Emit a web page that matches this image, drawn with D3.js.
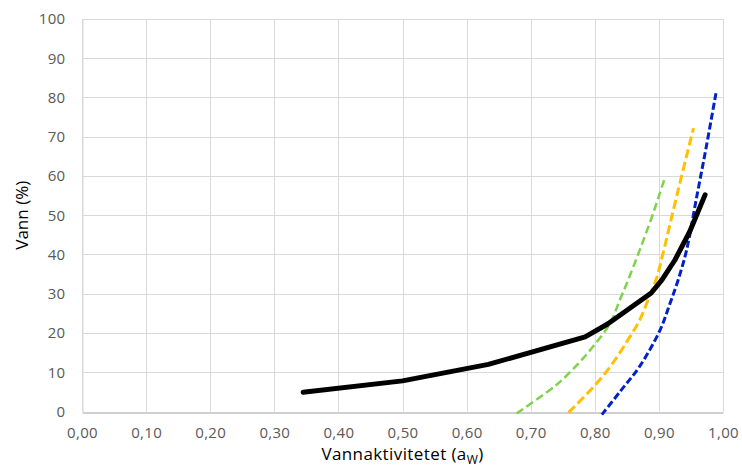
<!DOCTYPE html>
<html><head><meta charset="utf-8">
<script src="https://cdn.jsdelivr.net/npm/d3@7"></script>
<style>body{margin:0;background:#fff}svg{display:block}</style>
</head><body>
<svg id="c" width="742" height="472"></svg>
<script>
const xTicks = [0,0.1,0.2,0.3,0.4,0.5,0.6,0.7,0.8,0.9,1.0];
const yTicks = [0,10,20,30,40,50,60,70,80,90,100];
const blackAw = [0.345,0.50,0.634,0.785,0.82,0.888,0.905,0.925,0.948,0.972];
const blackV  = [4.9,7.8,12.0,19.0,22.3,30.2,33.6,38.6,45.8,55.2];
const greenAw = [0.678,0.73,0.746,0.772,0.797,0.824,0.839,0.852,0.87,0.89,0.909];
const greenV  = [-0.5,5.5,7.6,11.8,16.5,22.5,28.4,33.5,41.1,50,59.4];
const orangeAw = [0.759,0.798,0.824,0.85,0.87,0.886,0.896,0.906,0.93,0.954];
const orangeV  = [-0.3,6.3,11.4,17.8,23.3,29.7,33.8,40,56.4,72.2];
const blueAw = [0.811,0.84,0.87,0.902,0.917,0.930,0.943,0.959,0.974,0.989];
const blueV  = [-0.8,5.2,11.5,20.8,27.4,33.5,41.0,54.7,67.5,81.1];

const svg = d3.select("#c");
const x = d3.scaleLinear().domain([0,1]).range([82,723]);
const y = d3.scaleLinear().domain([0,100]).range([411.5,19]);
const fmt = d => d.toFixed(2).replace(".", ",");
const FF = "'Open Sans', 'Liberation Sans', sans-serif";

// gridlines
svg.append("g").selectAll("line").data(yTicks.filter(d=>d>0)).join("line")
  .attr("x1", x(0)).attr("x2", x(1)).attr("y1", d=>Math.round(y(d))+0.5).attr("y2", d=>Math.round(y(d))+0.5)
  .attr("stroke","#d9d9d9").attr("stroke-width",1);
svg.append("g").selectAll("line").data(xTicks).join("line")
  .attr("y1", y(0)).attr("y2", y(100)).attr("x1", d=>Math.round(x(d))+0.5).attr("x2", d=>Math.round(x(d))+0.5)
  .attr("stroke","#d9d9d9").attr("stroke-width",1);

// axes
const xAxis = svg.append("g").attr("transform",`translate(0,${Math.round(y(0))+0.5})`)
  .call(d3.axisBottom(x).tickValues(xTicks).tickFormat(fmt).tickSize(0).tickPadding(15));
xAxis.select(".domain").attr("stroke","#bfbfbf").attr("stroke-width",1.3);
const yAxis = svg.append("g").attr("transform",`translate(${Math.round(x(0))+0.5},0)`)
  .call(d3.axisLeft(y).tickValues(yTicks).tickSize(0).tickPadding(17));
yAxis.select(".domain").attr("stroke","#d9d9d9");
svg.selectAll(".tick text").attr("fill","#595959").style("font-family",FF).style("font-size","15px").style("letter-spacing","0.3px");

const mk = (a,b)=>a.map((v,i)=>[v,b[i]]);
const smooth = d3.line().x(d=>x(d[0])).y(d=>y(d[1])).curve(d3.curveCatmullRom.alpha(0.5));
const lin = d3.line().x(d=>x(d[0])).y(d=>y(d[1])).curve(d3.curveLinear);
const g = svg.append("g");
g.append("path").datum(mk(greenAw,greenV)).attr("d",smooth).attr("fill","none")
  .attr("stroke","#7ed348").attr("stroke-width",2.5).attr("stroke-dasharray","8,4");
g.append("path").datum(mk(orangeAw,orangeV)).attr("d",smooth).attr("fill","none")
  .attr("stroke","#ffc000").attr("stroke-width",3).attr("stroke-dasharray","9,4");
g.append("path").datum(mk(blueAw,blueV)).attr("d",smooth).attr("fill","none")
  .attr("stroke","#0022c8").attr("stroke-width",3).attr("stroke-dasharray","7,3");
g.append("path").datum(mk(blackAw,blackV)).attr("d",lin).attr("fill","none")
  .attr("stroke","#000").attr("stroke-width",5).attr("stroke-linecap","round").attr("stroke-linejoin","round");

// axis titles
const tx = svg.append("text").attr("x",(x(0)+x(1))/2).attr("y",460).attr("text-anchor","middle")
  .attr("fill","#000").style("font-family",FF).style("font-size","17px").style("letter-spacing","0.4px");
tx.append("tspan").text("Vannaktivitetet (a");
tx.append("tspan").attr("dy",4).style("font-size","12px").text("W");
tx.append("tspan").attr("dy",-4).text(")");
svg.append("text").attr("transform",`translate(28,${(y(0)+y(100))/2}) rotate(-90)`).attr("text-anchor","middle")
  .attr("fill","#000").style("font-family",FF).style("font-size","17px").text("Vann (%)");
</script>
</body></html>
